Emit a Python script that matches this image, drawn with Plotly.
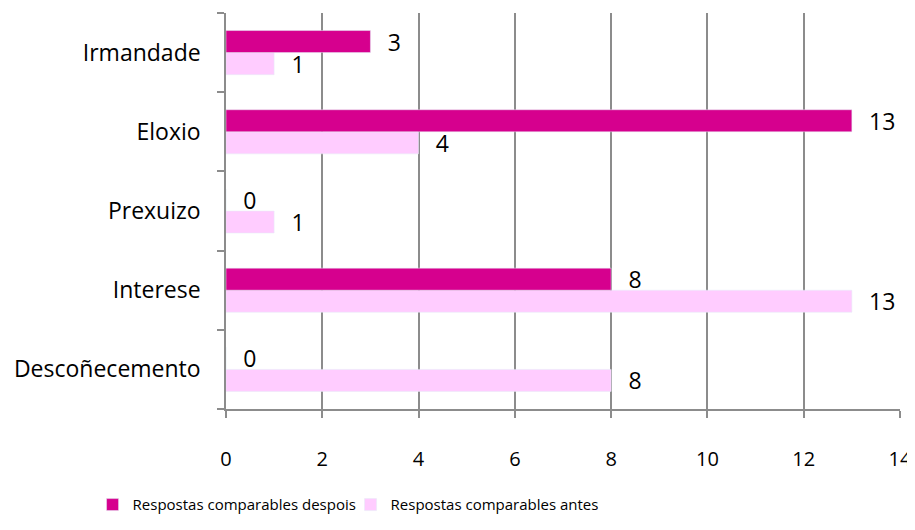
import plotly.graph_objects as go

categories = ["Descoñecemento", "Interese", "Prexuizo", "Eloxio", "Irmandade"]
despois = [0, 8, 0, 13, 3]
antes = [8, 13, 1, 4, 1]
series_names = ["Respostas comparables despois", "Respostas comparables antes"]
x_ticks = [0, 2, 4, 6, 8, 10, 12, 14]

FONT = "Open Sans"
FS = 23
GRID = "#8c8c8c"
pad = "\u00a0\u00a0\u200a"

fig = go.Figure()
fig.add_trace(go.Bar(
    y=categories, x=antes, orientation="h", name=series_names[1],
    marker=dict(color="#FFCCFF"),
    text=[pad + str(v) for v in antes], textposition="outside",
    constraintext="none",
    textfont=dict(family=FONT, size=FS, color="#000000"),
    cliponaxis=False, legendrank=2,
))
fig.add_trace(go.Bar(
    y=categories, x=despois, orientation="h", name=series_names[0],
    marker=dict(color="#D6008E"),
    text=[pad + str(v) for v in despois], textposition="outside",
    constraintext="none",
    textfont=dict(family=FONT, size=FS, color="#000000"),
    cliponaxis=False, legendrank=1,
))

# page body adds an 8px offset, so the figure is sized/margined to compensate
fig.update_layout(
    width=907, height=514,
    margin=dict(l=218, r=15, t=5, b=113, autoexpand=False),
    paper_bgcolor="white", plot_bgcolor="white",
    barmode="group", bargap=0.443, bargroupgap=0,
    font=dict(family=FONT, size=FS, color="#000000"),
    showlegend=True,
    legend=dict(
        orientation="h", x=-0.198, xanchor="left", y=-0.242, yanchor="middle",
        font=dict(family=FONT, size=15, color="#000000"),
        entrywidth=213, entrywidthmode="pixels", traceorder="normal",
    ),
    xaxis=dict(
        range=[0, 14], tickvals=x_ticks, ticktext=[str(v) for v in x_ticks],
        showgrid=True, gridcolor=GRID, gridwidth=1.5,
        showline=True, linecolor=GRID, linewidth=1.5,
        ticks="outside", ticklen=7, tickcolor=GRID, tickwidth=1.5,
        ticklabelstandoff=24, zeroline=False, automargin=False,
        tickfont=dict(family=FONT, size=20),
        fixedrange=True,
    ),
    yaxis=dict(
        categoryorder="array", categoryarray=categories,
        showgrid=False, showline=True, linecolor=GRID, linewidth=1.5,
        ticks="outside", ticklen=7, tickcolor=GRID, tickwidth=1.5,
        tickson="boundaries", ticklabelstandoff=19, automargin=False,
        tickfont=dict(family=FONT, size=FS),
        fixedrange=True,
    ),
)

fig.write_html("out.html")
